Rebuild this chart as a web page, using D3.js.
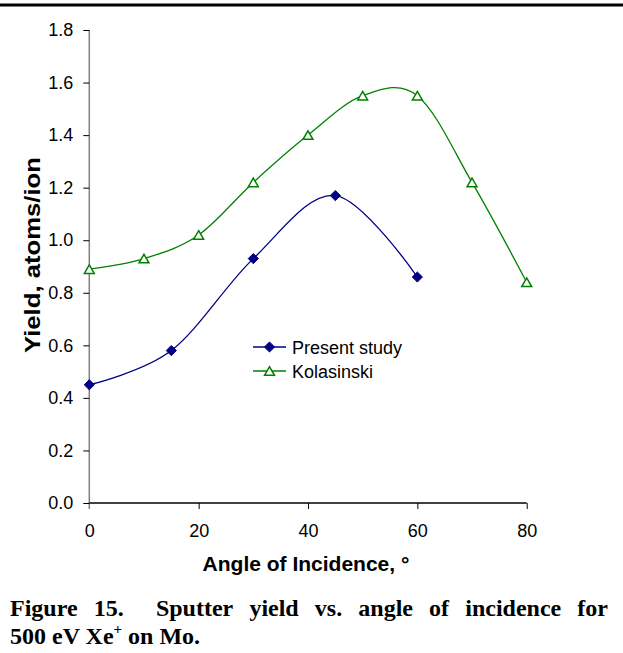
<!DOCTYPE html>
<html>
<head>
<meta charset="utf-8">
<script src="https://cdn.jsdelivr.net/npm/d3@7/dist/d3.min.js"></script>
<style>
  html, body { margin: 0; padding: 0; background: #fff; }
  svg { display: block; }
</style>
</head>
<body>
<svg id="chart" width="623" height="653"></svg>
<script>
// Sputter yield of Mo under 500 eV Xe+ bombardment, by angle of incidence
const presentAngles = [0, 15, 30, 45, 60];
const presentYield  = [0.45, 0.58, 0.93, 1.17, 0.86];

const kolasinskiAngles = [0, 10, 20, 30, 40, 50, 60, 70, 80];
const kolasinskiYield  = [0.89, 0.93, 1.02, 1.22, 1.40, 1.55, 1.55, 1.22, 0.84];

const xTicks = [0, 20, 40, 60, 80];
const yTicks = [0.0, 0.2, 0.4, 0.6, 0.8, 1.0, 1.2, 1.4, 1.6, 1.8];

const seriesNames = ["Present study", "Kolasinski"];
const captionLine1 = ["Figure", "15.", "Sputter", "yield", "vs.", "angle", "of", "incidence", "for"];

const svg = d3.select("#chart");

// rule across the top of the figure
svg.append("line")
  .attr("x1", 0).attr("x2", 623).attr("y1", 5).attr("y2", 5)
  .attr("stroke", "#000").attr("stroke-width", 3);

const plot = { left: 89.3, right: 526.7, top: 30, bottom: 503 };

const x = d3.scaleLinear().domain([0, 80]).range([plot.left, plot.right]);
const y = d3.scaleLinear().domain([0, 1.8]).range([plot.bottom, plot.top]);

const sans = "'Liberation Sans', Arial, sans-serif";

// y axis (grey spine, black ticks)
const yAxis = svg.append("g")
  .attr("transform", `translate(${plot.left},0)`)
  .call(d3.axisLeft(y).tickValues(yTicks).tickFormat(d3.format(".1f")).tickSize(6).tickPadding(10));
yAxis.select(".domain").attr("stroke", "#808080").attr("stroke-width", 1.5)
  .attr("d", `M0,${plot.top}V${plot.bottom + 6}`);
yAxis.selectAll(".tick line").attr("stroke", "#000");
yAxis.selectAll(".tick text").attr("font-family", sans).attr("font-size", 18).attr("fill", "#000");

// x axis
const xAxis = svg.append("g")
  .attr("transform", `translate(0,${plot.bottom})`)
  .call(d3.axisBottom(x).tickValues(xTicks).tickSize(6).tickPadding(15));
xAxis.select(".domain").attr("stroke", "#000").attr("stroke-width", 1.3)
  .attr("d", `M${plot.left},0H${plot.right}`);
xAxis.selectAll(".tick line").attr("stroke", "#000");
xAxis.selectAll(".tick").filter(d => d === 0).select("line").remove();
xAxis.selectAll(".tick text").attr("font-family", sans).attr("font-size", 18).attr("fill", "#000");

// axis titles
svg.append("text")
  .attr("transform", "translate(40,255) rotate(-90)")
  .attr("text-anchor", "middle")
  .attr("font-family", sans).attr("font-weight", "bold").attr("font-size", 22)
  .attr("textLength", 196).attr("lengthAdjust", "spacingAndGlyphs")
  .text("Yield, atoms/ion");

svg.append("text")
  .attr("x", 306).attr("y", 571)
  .attr("text-anchor", "middle")
  .attr("font-family", sans).attr("font-weight", "bold").attr("font-size", 21)
  .text("Angle of Incidence, °");

// smoothed series lines
const line = d3.line()
  .x(d => x(d[0])).y(d => y(d[1]))
  .curve(d3.curveCatmullRom.alpha(0));

const present = d3.zip(presentAngles, presentYield);
const kolasinski = d3.zip(kolasinskiAngles, kolasinskiYield);

const navy = "#000080";
const green = "#008000";

svg.append("path").datum(kolasinski)
  .attr("d", line).attr("fill", "none").attr("stroke", green).attr("stroke-width", 1.3);
svg.append("path").datum(present)
  .attr("d", line).attr("fill", "none").attr("stroke", navy).attr("stroke-width", 1.3);

const diamond = d3.symbol().type(d3.symbolDiamond2).size(66);
const triangle = d3.symbol().type(d3.symbolTriangle2).size(70);

function drawDiamond(g, cx, cy) {
  g.append("path").attr("d", diamond())
    .attr("transform", `translate(${cx},${cy})`)
    .attr("fill", navy).attr("stroke", navy).attr("stroke-width", 1);
}
function drawTriangle(g, cx, cy) {
  g.append("path").attr("d", triangle())
    .attr("transform", `translate(${cx},${cy + 1.4})`)
    .attr("fill", "#fff").attr("stroke", green).attr("stroke-width", 1.5);
}

const marks = svg.append("g");
kolasinski.forEach(d => drawTriangle(marks, x(d[0]), y(d[1])));
present.forEach(d => drawDiamond(marks, x(d[0]), y(d[1])));

// legend
const legend = svg.append("g");
const legendRows = [
  { name: seriesNames[0], color: navy, draw: drawDiamond, y: 347 },
  { name: seriesNames[1], color: green, draw: drawTriangle, y: 371 }
];
legendRows.forEach(r => {
  legend.append("line")
    .attr("x1", 253).attr("x2", 286).attr("y1", r.y).attr("y2", r.y)
    .attr("stroke", r.color).attr("stroke-width", 1.3);
  r.draw(legend, 269.5, r.y);
  legend.append("text")
    .attr("x", 292).attr("y", r.y + 6.5)
    .attr("font-family", sans).attr("font-size", 18)
    .text(r.name);
});

// caption (first line justified across the column)
const serif = "'Liberation Serif', 'Times New Roman', serif";
const capLeft = 10, capRight = 608;
const capG = svg.append("g")
  .attr("font-family", serif).attr("font-weight", "bold").attr("font-size", 24);
const words = capG.selectAll("text.w").data(captionLine1).join("text")
  .attr("class", "w").attr("y", 616).text(d => d);
const widths = [];
words.each(function () { widths.push(this.getComputedTextLength()); });
const gapWeights = captionLine1.slice(1).map((w, i) => (i === 1 ? 2 : 1));
const totalGap = (capRight - capLeft) - d3.sum(widths);
const unit = totalGap / d3.sum(gapWeights);
let cursor = capLeft;
words.each(function (d, i) {
  d3.select(this).attr("x", cursor);
  cursor += widths[i] + (i < gapWeights.length ? gapWeights[i] * unit : 0);
});

const line2 = capG.append("text").attr("x", capLeft).attr("y", 644);
line2.append("tspan").text("500 eV Xe");
line2.append("tspan").attr("font-size", 15).attr("dy", -10).text("+");
line2.append("tspan").attr("dy", 10).text(" on Mo.");
</script>
</body>
</html>
